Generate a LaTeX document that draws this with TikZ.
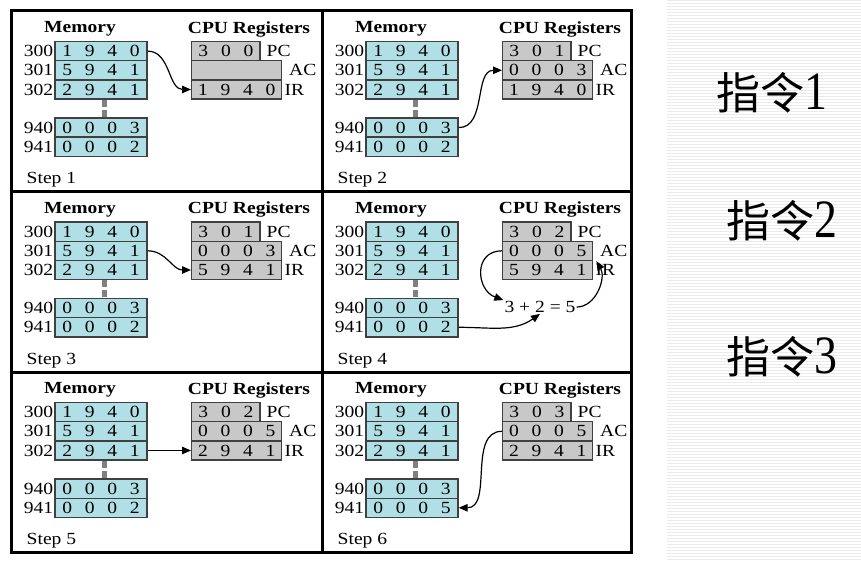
\documentclass[tikz,border=0pt]{standalone}
\usepackage{fontspec}
\setmainfont{Liberation Serif}[FakeStretch=1.15]
\newfontfamily\cjk{Noto Sans CJK SC}
\newfontfamily\cjkdig{Liberation Serif}[FakeStretch=0.85]
\usetikzlibrary{arrows.meta}
\definecolor{memfill}{HTML}{B0E0E6}
\definecolor{regfill}{HTML}{C8C8C8}
\definecolor{cellline}{HTML}{404040}
\definecolor{stubgray}{HTML}{808080}
\definecolor{stripecol}{HTML}{EBEBEB}
\newcommand\cellfont{\fontsize{17}{19}\selectfont}
\newcommand\fourd[4]{\makebox[22.5pt]{#1}\makebox[22.5pt]{#2}\makebox[22.5pt]{#3}\makebox[22.5pt]{#4}}
\newcommand\threed[3]{\makebox[22.6pt]{#1}\makebox[22.6pt]{#2}\makebox[22.6pt]{#3}}
\newcommand\drawpanel[8]{%
\begin{scope}[shift={(#2,#3)}]
 \node[titletext] (#1-mt) at (69,18) {Memory};
 \node[titletext] (#1-rt) at (238,18) {CPU Registers};
 \node[memcell] (#1-m300) at (90,40.1) {\fourd1940};
 \node[memcell] (#1-m301) at (90,59.3) {\fourd5941};
 \node[memcell] (#1-m302) at (90,78.5) {\fourd2941};
 \node[memcell] (#1-m940) at (90,116.6) {\fourd0003};
 \node[memcell] (#1-m941) at (90,135.8) {#7};
 \draw[stubline] ([xshift=3pt]#1-m302.south) -- ([xshift=3pt]#1-m940.north);
 \node[addr] (#1-a300) at (#1-m300.west) {300};
 \node[addr] (#1-a301) at (#1-m301.west) {301};
 \node[addr] (#1-a302) at (#1-m302.west) {302};
 \node[addr] (#1-a940) at (#1-m940.west) {940};
 \node[addr] (#1-a941) at (#1-m941.west) {941};
 \node[regcell, minimum width=68.3pt] (#1-pc) at (214.9,40.1) {#4};
 \node[regcell, minimum width=90pt] (#1-ac) at (225.7,59.3) {#5};
 \node[regcell, minimum width=90pt] (#1-ir) at (225.7,78.5) {#6};
 \node[lbl, anchor=west] (#1-pcl) at (255.5,40.1) {PC};
 \node[lbl, anchor=west] (#1-acl) at (278,59.3) {AC};
 \node[lbl, anchor=west] (#1-irl) at (273.5,78.5) {IR};
 \node[lbl, anchor=west] (#1-step) at (15.5,169) {Step #8};
\end{scope}}
\begin{document}
\begin{tikzpicture}[x=1pt,y=-1pt,
  titletext/.style={font=\cellfont\bfseries, inner sep=0pt},
  lbl/.style={font=\cellfont, inner sep=0pt},
  addr/.style={font=\cellfont, inner sep=1pt, anchor=east},
  memcell/.style={draw=cellline, fill=memfill, line width=1.4pt, minimum width=92pt, minimum height=19.2pt, inner sep=0pt, font=\cellfont},
  regcell/.style={draw=cellline, fill=regfill, line width=1.4pt, minimum height=19.2pt, inner sep=0pt, font=\cellfont},
  stubline/.style={draw=stubgray, line width=5pt, dash pattern=on 7pt off 3pt},
  framel/.style={line width=3pt, black},
  arr/.style={-{Triangle[length=9pt,width=7.5pt]}, line width=1.2pt, black},
  cjktext/.style={inner sep=0pt}]
\useasboundingbox (0,0) rectangle (861,561);
\foreach \yy in {1,4,...,559} \draw[stripecol, line width=1pt] (667,\yy) -- (861,\yy);
\node[cjktext] (i1) at (772,92.5) {\fontsize{44}{48}\selectfont{\cjk 指令}{\cjkdig\fontsize{54}{56}\selectfont 1}};
\node[cjktext] (i2) at (782,221) {\fontsize{44}{48}\selectfont{\cjk 指令}{\cjkdig\fontsize{54}{56}\selectfont 2}};
\node[cjktext] (i3) at (782,357) {\fontsize{44}{48}\selectfont{\cjk 指令}{\cjkdig\fontsize{54}{56}\selectfont 3}};
\drawpanel{p1}{11}{11}{\threed300}{}{\fourd1940}{\fourd0002}{1}
\drawpanel{p2}{322}{11}{\threed301}{\fourd0003}{\fourd1940}{\fourd0002}{2}
\drawpanel{p3}{11}{191.5}{\threed301}{\fourd0003}{\fourd5941}{\fourd0002}{3}
\drawpanel{p4}{322}{191.5}{\threed302}{\fourd0005}{\fourd5941}{\fourd0002}{4}
\drawpanel{p5}{11}{372}{\threed302}{\fourd0005}{\fourd2941}{\fourd0002}{5}
\drawpanel{p6}{322}{372}{\threed303}{\fourd0005}{\fourd2941}{\fourd0005}{6}
\node[lbl, inner sep=1pt] (p4-eq) at (540,307) {3 + 2 = 5};
\draw[arr] (p1-m300.east) to[out=0,in=180] (p1-ir.west);
\draw[arr] (p2-m940.east) to[out=0,in=180] (p2-ac.west);
\draw[arr] (p3-m301.east) to[out=0,in=180] (p3-ir.west);
\draw[arr] (p4-ac.west) to[out=180,in=160,looseness=1.5] (p4-eq.north west);
\draw[arr] (p4-m941.east) to[out=0,in=215] (p4-eq.south);
\draw[arr] (p4-eq.east) to[out=0,in=-60] ([xshift=3pt]p4-ac.south east);
\draw[arr] (p5-m302.east) -- (p5-ir.west);
\draw[arr] (p6-ac.west) to[out=180,in=0] (p6-m941.east);
\draw[framel] (11,11) rectangle (631,552);
\draw[framel] (322,11) -- (322,552);
\draw[framel] (11,191.5) -- (631,191.5);
\draw[framel] (11,372) -- (631,372);
\end{tikzpicture}
\end{document}
